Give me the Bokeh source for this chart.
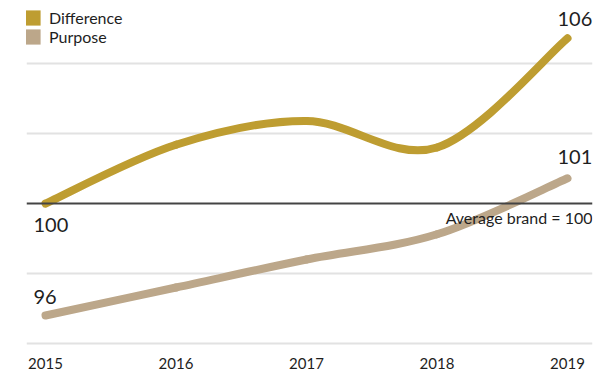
from bokeh.plotting import figure
from bokeh.models import FixedTicker, Span, Legend, LegendItem, Range1d, Grid, ColumnDataSource
from bokeh.core.properties import value
from bokeh.embed import file_html
from bokeh.resources import INLINE

# ---- data ----
years = [2015, 2016, 2017, 2018, 2019]
difference = [100.0, 102.1, 102.95, 102.0, 105.9]
purpose = [96.0, 97.0, 98.0, 98.9, 100.9]
series_names = ["Difference", "Purpose"]
series_colors = ["#BE9D31", "#BCA78A"]
baseline = 100
grid_values = [95, 97.5, 102.5, 105]
baseline_label = "Average brand = 100"

FONT = "Lato"
TEXT_COLOR = "#1e1e1e"

p = figure(width=598, height=371, output_backend="svg", toolbar_location=None,
           x_range=Range1d(2014.8544, 2019.1916), y_range=Range1d(94.786, 106.964),
           y_axis_location=None, min_border_left=26, min_border_right=6,
           min_border_top=8, min_border_bottom=0)
p.outline_line_color = None
p.grid.visible = False
p.background_fill_color = "white"

p.add_layout(Grid(dimension=1, ticker=FixedTicker(ticks=grid_values),
                  grid_line_color="#e2e2e2", grid_line_width=2))
p.add_layout(Span(location=baseline, dimension="width", line_color="#444444", line_width=2))

# x axis
xa = p.xaxis[0]
xa.ticker = FixedTicker(ticks=years)
xa.axis_line_color = None
xa.major_tick_line_color = None
xa.minor_tick_line_color = None
xa.major_label_standoff = 2
xa.major_label_text_font = FONT
xa.major_label_text_font_size = "15px"
xa.major_label_text_color = TEXT_COLOR


def catmull_bezier(xs, ys):
    n = len(xs)
    d = dict(x0=[], y0=[], x1=[], y1=[], cx0=[], cy0=[], cx1=[], cy1=[])
    for i in range(n - 1):
        xp, yp = (xs[i - 1], ys[i - 1]) if i > 0 else (xs[i], ys[i])
        xn, yn = (xs[i + 2], ys[i + 2]) if i + 2 < n else (xs[i + 1], ys[i + 1])
        d["x0"].append(xs[i]); d["y0"].append(ys[i])
        d["x1"].append(xs[i + 1]); d["y1"].append(ys[i + 1])
        d["cx0"].append(xs[i] + (xs[i + 1] - xp) / 6)
        d["cy0"].append(ys[i] + (ys[i + 1] - yp) / 6)
        d["cx1"].append(xs[i + 1] - (xn - xs[i]) / 6)
        d["cy1"].append(ys[i + 1] - (yn - ys[i]) / 6)
    return ColumnDataSource(d)


for name, vals, col in [(series_names[1], purpose, series_colors[1]),
                        (series_names[0], difference, series_colors[0])]:
    p.bezier(x0="x0", y0="y0", x1="x1", y1="y1", cx0="cx0", cy0="cy0", cx1="cx1", cy1="cy1",
             source=catmull_bezier(years, vals), line_color=col, line_width=8, line_cap="round")

nan = float("nan")
legend_items = []
for name, col in zip(series_names, series_colors):
    q = p.quad(left=[nan], right=[nan], top=[nan], bottom=[nan], fill_color=col, line_color=None)
    legend_items.append(LegendItem(label=name, renderers=[q]))

legend = Legend(items=legend_items, location=(-3, 303), margin=0, padding=0,
                border_line_color=None, background_fill_alpha=0,
                glyph_width=19, glyph_height=19, label_standoff=7, spacing=0,
                label_height=15, label_text_font=FONT, label_text_font_size="16px",
                label_text_color=TEXT_COLOR)
p.add_layout(legend)

# value labels
lab_kw = dict(text_font=value(FONT), text_font_size="20px", text_color=TEXT_COLOR,
              text_align="left", text_baseline="middle")
p.text(x=[years[0]], y=[difference[0]], text=[f"{difference[0]:.0f}"], x_offset=-12, y_offset=21, **lab_kw)
p.text(x=[years[0]], y=[purpose[0]], text=[f"{purpose[0]:.0f}"], x_offset=-12, y_offset=-19, **lab_kw)
p.text(x=[years[-1]], y=[difference[-1]], text=[f"{difference[-1]:.0f}"], x_offset=-10, y_offset=-19, **lab_kw)
p.text(x=[years[-1]], y=[purpose[-1]], text=[f"{purpose[-1]:.0f}"], x_offset=-10, y_offset=-21, **lab_kw)

p.text(x=[p.x_range.end], y=[baseline], text=[baseline_label], x_offset=0, y_offset=14,
       text_font=value(FONT), text_font_size="16px", text_color=TEXT_COLOR,
       text_align="right", text_baseline="middle")

open("out.html", "w").write(file_html(p, INLINE))
